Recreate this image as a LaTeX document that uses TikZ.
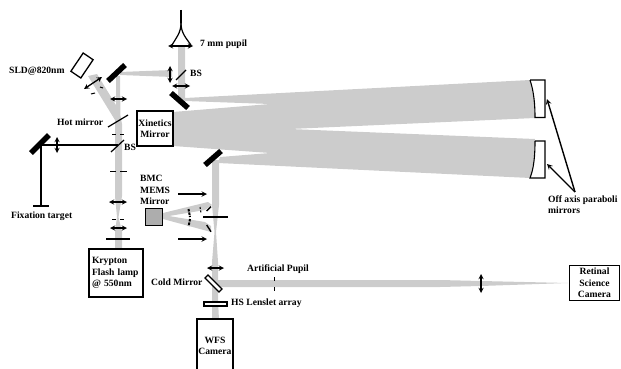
\documentclass[tikz,border=0pt]{standalone}
\usepackage{fontspec}
\setmainfont{Liberation Serif}
\usepackage{tikz}
\definecolor{beamgray}{gray}{0.8}
\definecolor{memsgray}{gray}{0.68}
\tikzset{
  beam/.style={fill=beamgray,draw=none},
  lbl/.style={font=\bfseries\fontsize{9.6}{11.5}\selectfont,inner sep=0pt,anchor=west,align=left},
  boxlbl/.style={draw,line width=1.1pt,fill=white,inner sep=0pt,font=\bfseries\fontsize{9.6}{11.5}\selectfont,align=center},
  lens/.style={<->,>=stealth,line width=1.3pt},
  pointer/.style={->,>=stealth,line width=1.4pt},
  thin mirror/.style={line width=1.2pt},
  thick mirror/.style={line width=5.5pt},
  slit/.style={line width=1pt}
}
\begin{document}
\begin{tikzpicture}[x=1pt,y=-1pt]
\useasboundingbox (0,0) rectangle (621,369);

%beams
\fill[beam] (178,46)--(185,46)--(185,102)--(178,100)--cycle;
\fill[beam] (120,72)--(172,70)--(172,77)--(120,75)--cycle;
\fill[beam] (116,76)--(120,76)--(120.5,116)--(122,124)--(122,196)--(118.5,217)--(122,232)--(122,249)--(115,249)--(115,232)--(117,217)--(115,196)--(115,118)--(116,114)--cycle;
\fill[beam] (88,76)--(97,74)--(119,110)--(119,122)--(115,120)--cycle;
\fill[beam] (185,98)--(530,80)--(534,100)--(535,118)--(290,129)--(535,139)--(534,160)--(530,178)--(218,163)--(220,157)--(270,153)--(173,146)--(173,112)--(270,104)--(185,101)--cycle;
\fill[beam] (212,160)--(219,160)--(219,205)--(216,232)--(218,262)--(218,300)--(219,320)--(212,320)--(212,262)--(214.5,232)--(212,205)--cycle;
\fill[beam] (218,280)--(440,280)--(481,281)--(568,283)--(481,286)--(440,287)--(218,287)--cycle;
\fill[beam] (163,213)--(208,202)--(212,205)--(205,210)--(163,217)--cycle;
\fill[beam] (163,215)--(205,222)--(211,226)--(211,232)--(163,219)--cycle;

%top arm
\coordinate (pupiltop) at (181,10);\coordinate (pupilneck) at (181,23);\coordinate (pupilleft) at (172,45);\coordinate (pupilright) at (191,45);
\draw[line width=1.2pt] (pupiltop)--(pupilneck); \draw[line width=1.2pt] (pupilneck) .. controls (181,33) and (176,38) .. (pupilleft); \draw[line width=1.2pt] (pupilneck) .. controls (181,33) and (186,38) .. (pupilright);
\draw[lens] (168,46)--(193,46); \draw[line width=2.6pt] (174,46)--(187,46);
\node[lbl] (pupillabel) at (200,44){7 mm pupil};
\draw[thin mirror] (176,80)--(186,70); \node[lbl] (bstop) at (190,73){BS};
\draw[lens] (170,66)--(170,83); \draw[lens] (172,86)--(190,86);
\draw[thick mirror] (171,93)--(188,108);

%source arm
\node[draw,line width=1.3pt,fill=white,minimum width=12pt,minimum height=22pt,rotate=-34,inner sep=0pt] (sld) at (82,65.5){};
\node[lbl] (sldlabel) at (9,71){SLD@820nm};
\draw[lens] (84,89)--(102,77); \draw[slit] (91,94)--(95,93); \draw[slit] (100,87)--(103,88);
\draw[thick mirror] (108,81)--(125,65);
\draw[lens] (110,99)--(127,99);
\draw[thin mirror] (108,127)--(128,115); \node[lbl] (hotlabel) at (57,122){Hot mirror};
\draw[slit] (112,134)--(116,134); \draw[slit] (120,134)--(124,134);
\node[lbl] (bslabel) at (124,147){BS};
\draw[slit] (110,171)--(116,171); \draw[slit] (120,171)--(127,171);
\draw[lens] (109,202)--(127,202);
\draw[slit] (112,219)--(116,219); \draw[slit] (120,219)--(124,219);
\draw[lens] (110,228)--(127,228);
\draw[line width=2.6pt] (106,239)--(130,239);
\node[boxlbl,minimum width=54pt,minimum height=48pt,text width=48pt,align=left] (krypton) at (116,273){Krypton\\Flash lamp\\@ 550nm};

%fixation arm
\coordinate (fixcorner) at (41,145);\coordinate (fixbar) at (41,206);\coordinate (bsfix) at (118,145);
\draw[line width=1.1pt] (fixbar)--(fixcorner)--(bsfix);
\draw[line width=1.1pt] (33,206)--(49,206);
\draw[thick mirror] (31,153)--(49,135);
\draw[lens] (57,137)--(57,153);
\draw[thin mirror] (111,152)--(124,140);
\node[lbl] (fixlabel) at (11,216){Fixation target};

\node[boxlbl,minimum width=36pt,minimum height=35pt] (xinetics) at (155,128.5){Xinetics\\Mirror};

%off axis mirrors
\draw[line width=1.1pt,fill=white] (530,80)--(545,80)--(545,117.5)--(535,117.5) .. controls (535,105) and (534,92) .. (530,80);
\draw[line width=1.1pt,fill=white] (535,141)--(545,141)--(545,178)--(530,178) .. controls (534,168) and (535,155) .. (535,141);
\coordinate (pointerroot) at (575,192);\coordinate (uppertip) at (547,99);\coordinate (lowertip) at (547,164);
\draw[pointer] (pointerroot)--(uppertip); \draw[pointer] (pointerroot)--(lowertip);
\node[lbl] (offlabel) at (548,204.5){Off axis paraboli\\mirrors};

%mems arm
\draw[thick mirror] (205,165)--(221,151);
\node[lbl] (bmclabel) at (140,190){BMC\\MEMS\\Mirror};
\node[draw,line width=1.1pt,fill=memsgray,minimum width=17pt,minimum height=17pt,inner sep=0pt] (mems) at (154,216.7){};
\draw[line width=2pt,dash pattern=on 2.5pt off 1pt] (188.5,209)--(190,217); \draw[line width=2pt,dash pattern=on 2.5pt off 1pt] (190,219)--(188.7,226);
\draw[line width=1.4pt] (206.7,211)--(211,206.7); \draw[line width=1.4pt] (206.7,225)--(211,231.7);
\draw[slit,dash pattern=on 2pt off 1.5pt] (200,207)--(201,213);
\draw[line width=1.1pt] (203,217)--(228,217);
\draw[pointer] (178,194)--(207,194); \draw[pointer] (178,239)--(207,239);
\draw[lens] (207,268)--(224,268);
\draw[line width=1.4pt,fill=white] (205,278)--(208,275)--(222,289)--(219,292)--cycle;
\node[lbl] (coldlabel) at (151,282){Cold Mirror};
\node[draw,line width=1.1pt,fill=white,minimum width=23pt,minimum height=4pt,inner sep=0pt] (lenslet) at (215.5,304){};
\node[lbl] (hslabel) at (231,303){HS Lenslet array};
\node[boxlbl,minimum width=36pt,minimum height=54pt] (wfs) at (215,346){WFS\\Camera};

%science arm
\node[lbl] (pupilartlabel) at (247,269){Artificial Pupil};
\draw[slit] (274,277)--(274,281); \draw[slit] (274,287)--(274,291);
\draw[lens] (481,274)--(481,293);
\node[boxlbl,minimum width=50pt,minimum height=35pt] (retinal) at (594.5,283){Retinal\\Science\\Camera};
\end{tikzpicture}
\end{document}
